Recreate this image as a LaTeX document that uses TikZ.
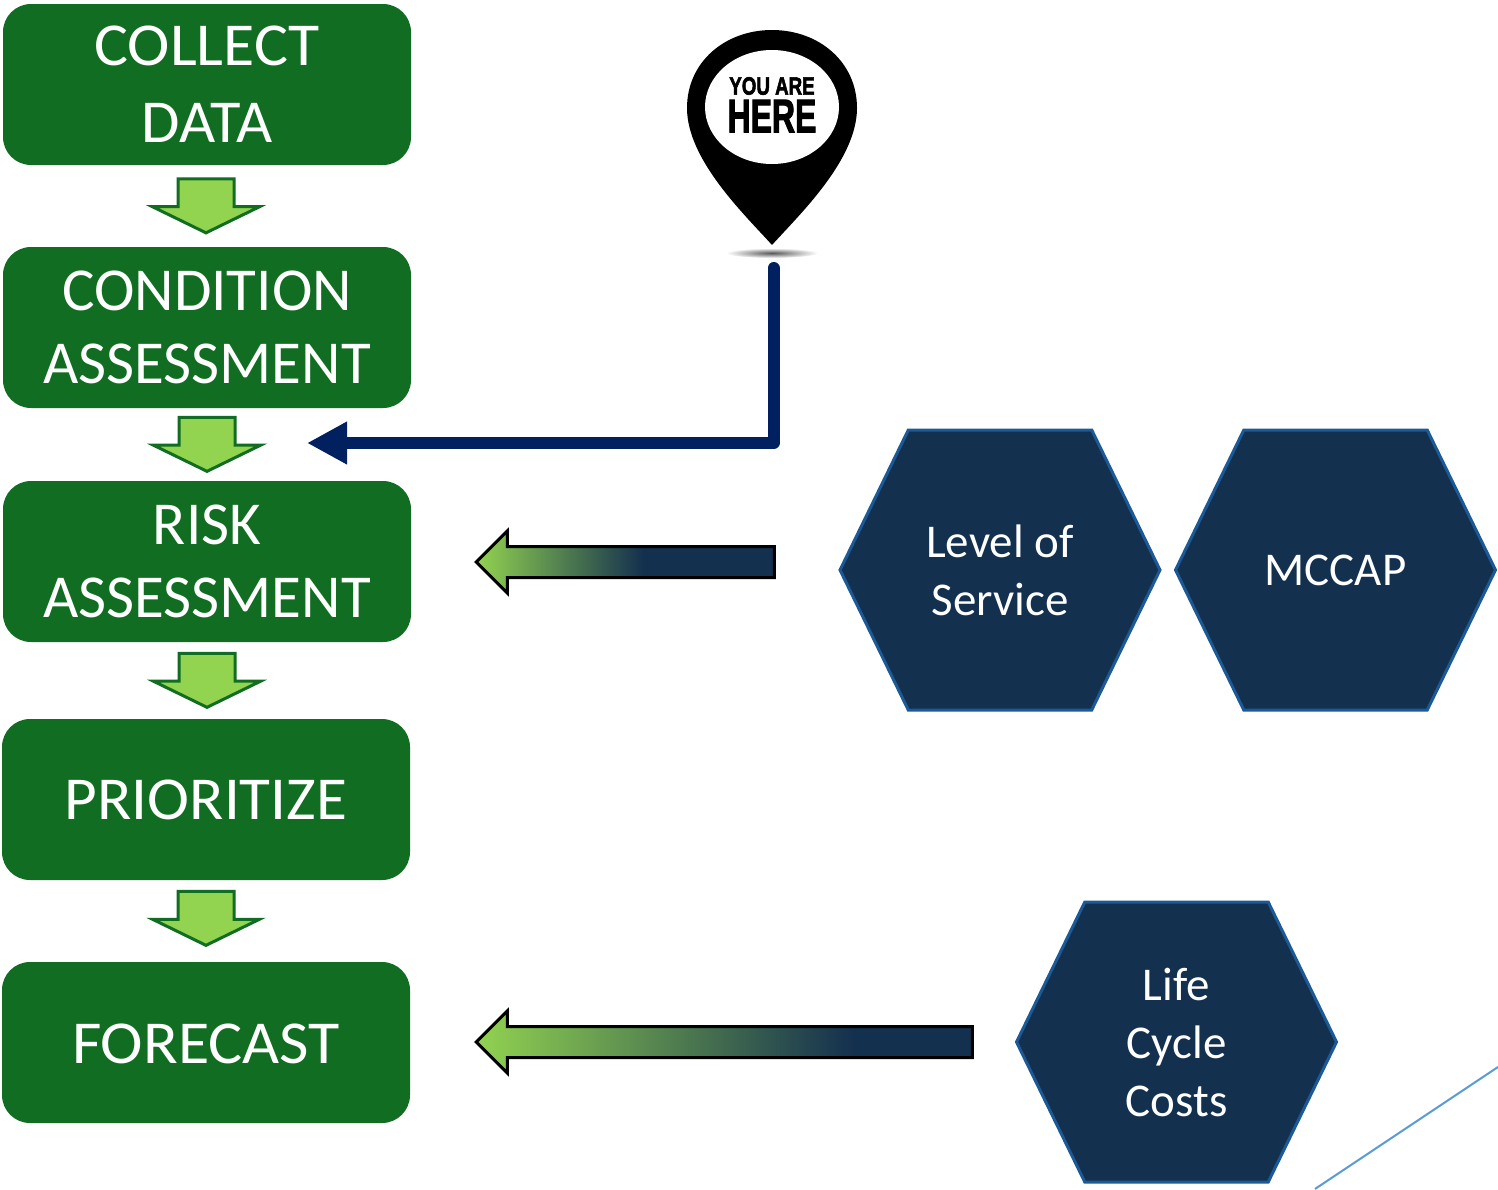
\documentclass[tikz,border=0pt]{standalone}
\usepackage{fontspec}
\setmainfont{Carlito}
\newfontfamily\pinfont{Liberation Sans}[BoldFeatures={FakeBold=2.5}]
\usetikzlibrary{shapes.arrows,shapes.symbols,arrows.meta}
\definecolor{boxgreen}{HTML}{116D21}
\definecolor{arrowgreen}{HTML}{92D350}
\definecolor{hexnavy}{HTML}{14304F}
\definecolor{hexedge}{HTML}{1B5A96}
\definecolor{linknavy}{HTML}{002060}
\definecolor{diagblue}{HTML}{5B9BD5}
\pgfdeclarehorizontalshading{shortgrad}{100bp}{color(0bp)=(arrowgreen); color(25bp)=(arrowgreen); color(53bp)=(hexnavy); color(100bp)=(hexnavy)}
\pgfdeclarehorizontalshading{longgrad}{100bp}{color(0bp)=(arrowgreen); color(25bp)=(arrowgreen); color(63bp)=(hexnavy); color(100bp)=(hexnavy)}
\newcommand\widen[2]{\scalebox{#1}[1]{#2}}
\tikzset{
  stage/.style={rectangle,rounded corners=28pt,fill=boxgreen,text=white,minimum width=408pt,minimum height=161pt,inner sep=0pt,align=center,font=\fontsize{61}{73}\selectfont},
  lowertext/.style={execute at begin node={\rule{0pt}{#1}}},
  downarrow/.style={single arrow,shape border rotate=270,fill=arrowgreen,draw=boxgreen,line width=3pt,inner xsep=26.5pt,inner ysep=0pt,minimum height=54pt,minimum width=104pt,single arrow head extend=25.5pt,single arrow tip angle=128},
  gradarrow/.style={single arrow,shape border rotate=180,draw=black,line width=3pt,inner xsep=0pt,inner ysep=14pt,minimum width=59pt,single arrow head extend=15.5pt,single arrow tip angle=90},
  hexa/.style={signal,signal from=nowhere,signal to=east and west,signal pointer angle=128,fill=hexnavy,draw=hexedge,line width=3pt,text=white,minimum width=320pt,minimum height=280pt,inner sep=0pt,align=center,font=\fontsize{47}{58}\selectfont},
  pintext/.style={inner sep=0pt}
}
\begin{document}
\begin{tikzpicture}[x=1pt,y=-1pt]
\useasboundingbox (0,0) rectangle (1498,1189);
\node[stage,lowertext=42pt] (collect) at (207,84.5) {\widen{1.046}{COLLECT}\\[4pt]\widen{1.024}{DATA}};
\node[stage,lowertext=43pt] (condition) at (207,327.5) {CONDITION\\ASSESSMENT};
\node[stage,lowertext=44pt] (risk) at (207,561.5) {RISK\\ASSESSMENT};
\node[stage] (prior) at (206,799.5) {\widen{1.037}{PRIORITIZE}};
\node[stage,lowertext=42pt] (forecast) at (206,1042.5) {\widen{1.05}{FORECAST}};
\node[downarrow] (d1) at (206,199) {};
\node[downarrow] (d2) at (207,437.5) {};
\node[downarrow] (d3) at (207,673.5) {};
\node[downarrow] (d4) at (206,911.5) {};
% pin
\fill[black] (772,245) .. controls (745,215) and (687,160) .. (687,108)
  .. controls (687,62) and (725,30) .. (772,30)
  .. controls (819,30) and (857,62) .. (857,108)
  .. controls (857,160) and (799,215) .. (772,245) -- cycle;
\fill[white] (772,107) ellipse [x radius=67pt,y radius=57pt];
\node[pintext,font=\pinfont\bfseries\fontsize{25}{25}\selectfont] (you) at (772,86) {\scalebox{.75}[1]{YOU ARE}};
\node[pintext,font=\pinfont\bfseries\fontsize{47}{47}\selectfont] (here) at (772,116) {\scalebox{.68}[1]{HERE}};
\shade[inner color=black!65,outer color=white] (772,253) ellipse [x radius=46pt,y radius=5pt];
% connector
\coordinate (linkstart) at (773.5,268);
\coordinate (linkbend) at (773.5,443);
\coordinate (linkend) at (307,443);
\draw[linknavy,line width=12pt,line cap=round,line join=round,-{Triangle[length=40pt,width=40pt]}] (linkstart) -- (linkbend) -- (linkend);
% hexagons
\node[hexa] (los) at (1000,570) {Level of\\Service};
\node[hexa] (mccap) at (1335.5,570) {MCCAP};
\node[hexa] (lcc) at (1176.5,1042) {Life\\Cycle\\Costs};
% gradient arrows
\node[gradarrow,shading=shortgrad,minimum height=298pt] (g1) at (633,562) {};
\node[gradarrow,shading=longgrad,minimum height=496pt] (g2) at (732,1042) {};
% corner line
\coordinate (diagA) at (1315,1189);
\coordinate (diagB) at (1498,1067);
\draw[diagblue,line width=2pt] (diagA) -- (diagB);
\end{tikzpicture}
\end{document}
